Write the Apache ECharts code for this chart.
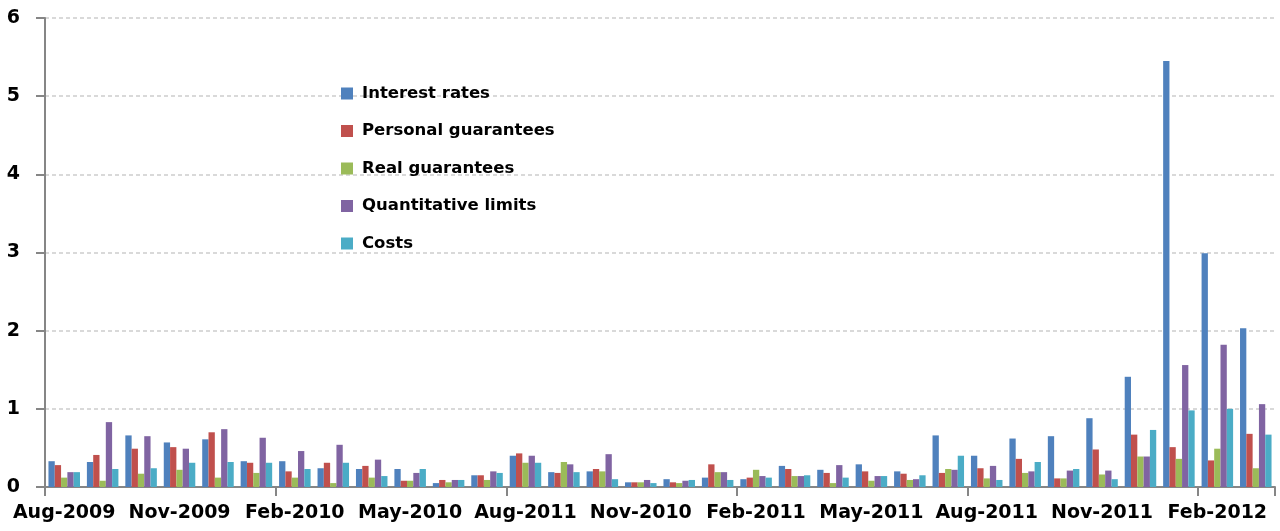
<!DOCTYPE html>
<html>
<head>
<meta charset="utf-8">
<script src="https://cdn.jsdelivr.net/npm/echarts@6/dist/echarts.min.js"></script>
<style>
html,body{margin:0;padding:0;background:#fff;}
#chart{width:1280px;height:531px;}
</style>
</head>
<body>
<div id="chart"></div>
<script>
// Monthly categories Aug-2009 .. Mar-2012
const categories = [
  "Aug-2009","Sep-2009","Oct-2009","Nov-2009","Dec-2009","Jan-2010",
  "Feb-2010","Mar-2010","Apr-2010","May-2010","Jun-2010","Jul-2010",
  "Aug-2010","Sep-2010","Oct-2010","Nov-2010","Dec-2010","Jan-2011",
  "Feb-2011","Mar-2011","Apr-2011","May-2011","Jun-2011","Jul-2011",
  "Aug-2011","Sep-2011","Oct-2011","Nov-2011","Dec-2011","Jan-2012",
  "Feb-2012","Mar-2012"
];
// Tick labels as printed in the reference (every third month)
const tickLabels = [
  "Aug-2009","","","Nov-2009","","",
  "Feb-2010","","","May-2010","","",
  "Aug-2011","","","Nov-2010","","",
  "Feb-2011","","","May-2011","","",
  "Aug-2011","","","Nov-2011","","",
  "Feb-2012",""
];
const seriesNames = ["Interest rates","Personal guarantees","Real guarantees","Quantitative limits","Costs"];
const interestRates = [0.33,0.32,0.66,0.57,0.61,0.33,0.33,0.24,0.23,0.23,0.05,0.15,0.40,0.19,0.20,0.06,0.10,0.12,0.10,0.27,0.22,0.29,0.20,0.66,0.40,0.62,0.65,0.88,1.41,5.45,2.99,2.03];
const personalGuarantees = [0.28,0.41,0.49,0.51,0.70,0.31,0.20,0.31,0.27,0.08,0.09,0.15,0.43,0.18,0.23,0.06,0.06,0.29,0.12,0.23,0.18,0.20,0.17,0.18,0.24,0.36,0.11,0.48,0.67,0.51,0.34,0.68];
const realGuarantees = [0.12,0.08,0.17,0.22,0.12,0.18,0.12,0.05,0.12,0.08,0.06,0.09,0.31,0.32,0.20,0.06,0.05,0.19,0.22,0.14,0.05,0.08,0.09,0.23,0.11,0.18,0.11,0.16,0.39,0.36,0.49,0.24];
const quantitativeLimits = [0.19,0.83,0.65,0.49,0.74,0.63,0.46,0.54,0.35,0.18,0.09,0.20,0.40,0.29,0.42,0.09,0.08,0.19,0.14,0.14,0.28,0.14,0.10,0.22,0.27,0.20,0.21,0.21,0.39,1.56,1.82,1.06];
const costs = [0.19,0.23,0.24,0.31,0.32,0.31,0.23,0.31,0.14,0.23,0.09,0.18,0.31,0.19,0.10,0.05,0.09,0.09,0.12,0.15,0.12,0.14,0.15,0.40,0.09,0.32,0.23,0.10,0.73,0.98,1.00,0.67];
const yTicks = [0,1,2,3,4,5,6];

const colors = ["#4F81BD","#C0504D","#9BBB59","#8064A2","#4BACC6"];
const values = [interestRates, personalGuarantees, realGuarantees, quantitativeLimits, costs];

const chart = echarts.init(document.getElementById('chart'), null, {renderer:'canvas'});
const font = "DejaVu Sans, Verdana, sans-serif";
chart.setOption({
  animation:false,
  color: colors,
  textStyle:{fontFamily:font},
  legend:{
    orient:'vertical',
    left:336, top:80,
    itemWidth:12, itemHeight:12, itemGap:20.5,
    icon:'rect',
    textStyle:{fontFamily:font, fontWeight:'bold', fontSize:16.5, color:'#000', padding:[0,0,0,4]},
    data: seriesNames
  },
  grid:{left:45, right:5, top:18, bottom:44, containLabel:false},
  xAxis:{
    type:'category',
    data: categories,
    boundaryGap:true,
    axisLine:{lineStyle:{color:'#868686', width:2}},
    axisTick:{show:true, interval:5, length:9, lineStyle:{color:'#868686', width:2}},
    axisLabel:{
      interval:2, margin:17,
      fontFamily:font, fontWeight:'bold', fontSize:19, color:'#000',
      formatter:(v, i)=>tickLabels[i]
    },
    splitLine:{show:false}
  },
  yAxis:{
    type:'value', min:yTicks[0], max:yTicks[yTicks.length-1], interval:1,
    axisLine:{show:true, lineStyle:{color:'#868686', width:2}},
    axisTick:{show:true, length:9, lineStyle:{color:'#868686', width:2}},
    axisLabel:{margin:25, fontFamily:font, fontWeight:'bold', fontSize:19, color:'#000'},
    splitLine:{show:true, lineStyle:{color:'#D9D9D9', type:[4,3], width:2}}
  },
  series: seriesNames.map((name, k)=>({
    name: name,
    type:'bar',
    data: values[k],
    barGap:'0%',
    barCategoryGap:'18%',
    itemStyle:{color:colors[k]}
  }))
});
</script>
</body>
</html>
